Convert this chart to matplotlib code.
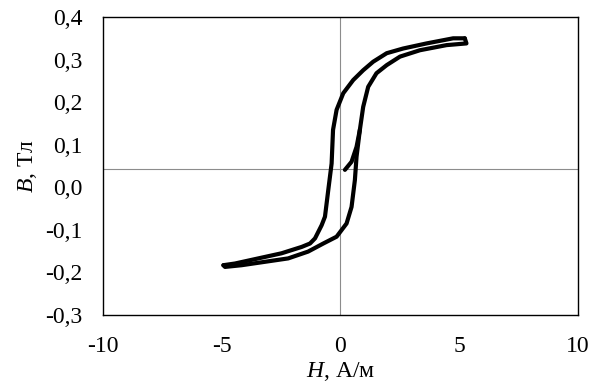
import matplotlib
matplotlib.use("Agg")
import matplotlib.pyplot as plt
from matplotlib.ticker import FuncFormatter

plt.rcParams['font.family'] = ['Liberation Serif', 'DejaVu Serif']
plt.rcParams['mathtext.fontset'] = 'custom'
plt.rcParams['mathtext.it'] = 'Liberation Serif:italic'
plt.rcParams['mathtext.rm'] = 'Liberation Serif'
plt.rcParams['axes.unicode_minus'] = False

# initial magnetisation curve
h_init = [0.19, 0.47, 0.68, 0.82]
b_init = [0.041, 0.060, 0.095, 0.135]

# descending branch (+H -> -H)
h_down = [5.24, 4.75, 3.63, 2.64, 1.95, 1.38, 0.96, 0.54, 0.12, -0.16, -0.31, -0.37,
          -0.51, -0.65, -0.79, -1.07, -1.28, -1.63, -2.48, -3.46, -4.44, -4.93]
b_down = [0.350, 0.350, 0.338, 0.326, 0.315, 0.295, 0.275, 0.252, 0.221, 0.182, 0.135, 0.056,
          -0.006, -0.069, -0.089, -0.120, -0.132, -0.140, -0.155, -0.167, -0.179, -0.183]

# ascending branch (-H -> +H)
h_up = [-4.93, -4.86, -4.16, -3.18, -2.20, -1.36, -0.72, -0.16, 0.26, 0.47, 0.61, 0.68,
        0.82, 0.96, 1.17, 1.52, 1.95, 2.51, 3.35, 4.47, 5.31, 5.24]
b_up = [-0.183, -0.187, -0.183, -0.175, -0.167, -0.151, -0.132, -0.116, -0.085, -0.046, 0.017, 0.072,
        0.135, 0.189, 0.236, 0.268, 0.287, 0.307, 0.322, 0.334, 0.338, 0.350]

x_ticks = [-10, -5, 0, 5, 10]
y_ticks = [-0.3, -0.2, -0.1, 0.0, 0.1, 0.2, 0.3, 0.4]
h_cross = 0.043

fig = plt.figure(figsize=(5.92, 3.87), dpi=100)
ax = fig.add_axes([0.174, 0.186, 0.802, 0.770])

ax.axhline(h_cross, color='#8c8c8c', lw=0.8, zorder=1)
ax.axvline(0, color='#8c8c8c', lw=0.8, zorder=1)

for hx, by in [(h_init, b_init), (h_down, b_down), (h_up, b_up)]:
    ax.plot(hx, by, color='black', lw=3.0, solid_capstyle='round',
            solid_joinstyle='round', zorder=3)

ax.set_xlim(-10, 10)
ax.set_ylim(-0.3, 0.4)
ax.set_xticks(x_ticks)
ax.set_yticks(y_ticks)
ax.xaxis.set_major_formatter(FuncFormatter(lambda v, p: f"{v:.0f}"))
ax.yaxis.set_major_formatter(FuncFormatter(lambda v, p: f"{v:.1f}".replace('.', ',')))
ax.tick_params(length=0, labelsize=17)
ax.tick_params(axis='y', pad=15)
ax.tick_params(axis='x', pad=15)
for s in ax.spines.values():
    s.set_linewidth(1.0)
    s.set_color('black')

ax.set_xlabel(r'$\mathit{H}$, А/м', fontsize=17, labelpad=2)
ax.set_ylabel(r'$\mathit{B}$, Тл', fontsize=17, labelpad=4)

fig.savefig('out.png', dpi=100)
